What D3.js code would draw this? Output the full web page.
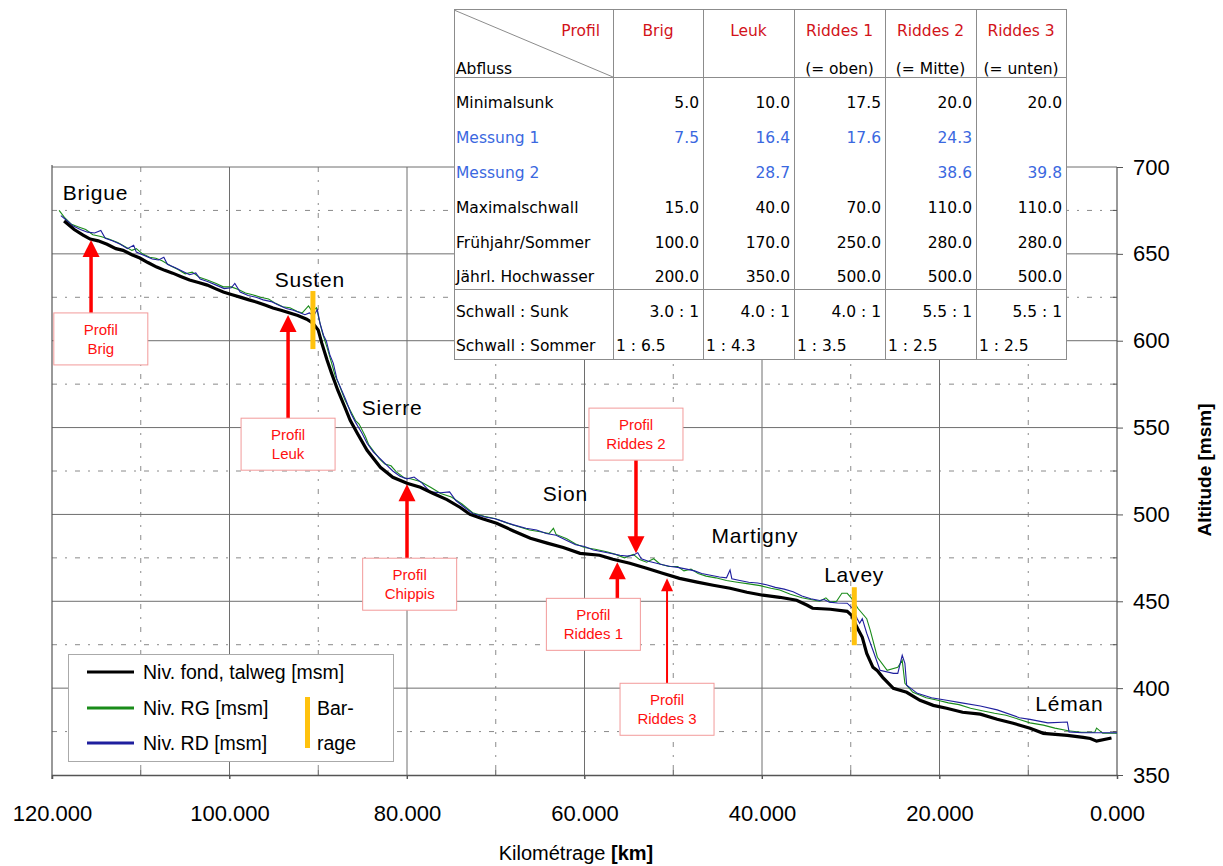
<!DOCTYPE html>
<html>
<head>
<meta charset="utf-8">
<script src="https://cdn.jsdelivr.net/npm/d3@7"></script>
<style>
html,body{margin:0;padding:0;background:#fff;}
svg{display:block;}
</style>
</head>
<body>
<svg id="chart" width="1223" height="866"></svg>
<script>
// ---------- DATA ----------
const xTicksMajor = [120, 100, 80, 60, 40, 20, 0];
const xTicksMinor = [110, 90, 70, 50, 30, 10];
const yTicksMajor = [700, 650, 600, 550, 500, 450, 400, 350];
const yTicksMinor = [675, 625, 575, 525, 475, 425, 375];

// Niv. fond, talweg [km, msm]
const talweg = [[118.5,668.3],[117.5,664],[116.5,660.8],[115.7,658.5],[114.8,657.5],[113.8,655.5],[112.8,653],[112,652],[111,649.5],[110.1,647.6],[109.2,645],[108.2,642.4],[107.3,640.5],[106.4,638.9],[105.5,637],[104.5,634.9],[103.5,633.5],[102.5,632],[101.6,630],[100.7,628],[99.7,626.5],[98.8,625.1],[97.8,623.5],[96.9,622.2],[96,620.5],[95.1,618.8],[94.2,617.5],[93.2,615.9],[92.3,614.5],[91.3,612.4],[90.6,610.1],[90.0,606.1],[89.6,598.6],[89.0,588.8],[88.5,581.3],[87.8,571.5],[87.0,561.7],[86.4,554.2],[85.6,546.7],[84.5,536.9],[83.0,527.1],[81.6,521.4],[80.0,517.9],[78.5,515.6],[77.1,512.2],[75.5,508.5],[74,504],[72.9,500],[71.5,497.5],[69.9,494.9],[68,490.5],[66.1,486.3],[64.2,483.5],[62.4,481],[60.5,477.6],[58.3,476.5],[56.8,474.2],[54.9,471.9],[53.0,469.0],[51.2,466.1],[49.3,463.2],[47.3,461.0],[45.5,459.2],[43.6,457.5],[41.7,455.2],[39.9,453.5],[38.0,452.3],[36.1,450.6],[34.9,447.7],[34.3,446],[32.3,445.4],[30.4,444.2],[29.9,441.9],[29.3,435],[28.7,429.3],[28.2,420],[27.5,412],[27.0,410],[26.4,406.2],[25.2,399.9],[23.7,397.6],[22.2,393],[20.7,390.1],[19.2,388.4],[17.4,386.1],[15.4,385],[13.5,382.1],[11.7,379.8],[9.8,376.9],[8.3,374],[5.6,372.8],[3.8,371.7],[3,371],[2.3,369.5],[0.8,371.1]];

// Niv. RG [km, msm]
const rg = [[119.2,675],[118.6,671],[117.8,667],[117,665.5],[116.2,664],[115.4,661],[114.5,660],[113.6,658.5],[112.6,656.5],[111.7,654],[111,652],[110.5,653],[109.8,650],[109,648],[108.3,647.5],[107.6,646],[106.6,643],[105.8,641],[105,638.5],[104.2,639.5],[103.4,636.5],[102.5,635],[101.5,633],[100.7,631],[99.8,631],[99,629.5],[98.2,627.5],[97.4,626.5],[96.5,625],[95.6,624],[94.8,621.5],[94,619.5],[93.2,619],[92.4,617],[91.8,616],[91.1,620],[90.7,617],[90.2,619],[89.9,612],[89.5,604],[89.0,596],[88.6,589],[88.1,580],[87.6,574],[87.0,566],[86.4,560],[85.8,554],[85.4,552],[85.0,548],[84.7,545],[84.3,540],[83.7,536],[83.1,532],[82.5,529],[81.8,528],[81.2,524.5],[80.3,521],[79.6,520.5],[78.5,519],[77.3,515.5],[76.2,512],[75,510],[73.8,506],[72.6,501],[71.3,499],[70,497.5],[68.7,495],[67.5,493],[66.2,491],[65,490],[64,489],[63.5,492],[63.2,488.5],[62,486],[61,483],[60,481],[58.8,480],[57.5,478.5],[56.5,477],[55.5,475],[54.5,477],[53.8,474],[53,472.5],[52.2,474.5],[51.5,471.5],[50.5,470],[49.5,470],[48.8,467.5],[48,468.5],[47.2,466],[46.3,464.5],[45.2,463.5],[44,462],[42.8,461],[41.5,460],[40.2,459],[39,457.5],[38,456.5],[36.8,454],[35.5,452],[34.5,451],[33.5,450],[32.8,452],[32.3,449.5],[31.6,450],[31.0,454.6],[30.4,454.6],[29.9,451.7],[29.2,446],[28.2,440],[27.8,433.3],[27.0,417.8],[25.9,410.3],[24.7,412],[24.2,416],[23.9,402.8],[23.0,397.6],[21.5,394.5],[20.2,393],[19,391.5],[17.8,390.5],[16.5,388.4],[15.2,387],[13.8,385.5],[12.5,384.4],[11,382],[9.8,380],[8.3,378.7],[7,377],[5.5,375.5],[4,374.6],[2.5,374.6],[2.3,377],[1.6,374],[0,374]];

// Niv. RD [km, msm]
const rd = [[119,672],[118.4,669.5],[117.6,666],[116.8,664],[116,662.5],[115.2,662],[114.5,663.5],[114,659],[113.2,657.5],[112.3,655.5],[111.5,653],[110.8,655],[110.5,651],[109.6,649],[108.7,647],[108,646.5],[107.4,648],[107,644],[106.1,642],[105.3,640],[104.5,638],[103.8,639],[103.3,635.5],[102.4,634],[101.5,632],[100.6,630],[99.8,630.5],[99.4,633],[98.8,628],[97.9,626],[97,625],[96.2,623.5],[95.3,622.5],[94.5,620.5],[93.6,618.5],[92.8,617.5],[92,616],[91.5,615],[91,616],[90.5,614.5],[90.1,618],[89.8,610],[89.4,603],[89.1,600],[88.7,592],[88.3,587],[87.9,578],[87.4,572],[86.9,566],[86.3,558],[85.8,553],[85.1,547],[84.5,541],[83.8,536],[83.2,533],[82.4,529],[81.6,525],[80.8,522],[80,520.5],[79.2,521.5],[78.3,518],[77.4,513],[76.2,512.5],[75.2,513],[74.5,508],[73.5,504],[72.6,500.5],[71.2,498.5],[70.1,497.5],[69.2,496],[68,494],[66.6,492],[65.4,491],[64.3,489],[63.2,488],[62,485],[61,482.5],[60,481.5],[59,479.5],[58,478.5],[57,477.5],[56,476.5],[55.2,476],[54.5,476.5],[54,478],[53.6,474.5],[52.8,473],[52,472],[51.2,471],[50.3,470],[49.5,469.5],[48.5,468.5],[47.6,467.5],[46.8,466],[45.8,465],[44.8,464],[44,463.5],[43.6,468],[43.4,463],[42.5,462],[41.5,461],[40.5,460.5],[39.5,459.5],[38.5,458],[37.5,457],[36.5,455.5],[35.5,453],[34.5,451.5],[33.5,450.5],[33,451],[32.4,449.5],[31.5,449],[30.4,448.9],[29.8,446],[29.3,440.2],[29.0,437.3],[28.7,440],[28.2,431.6],[27.5,421.8],[26.7,410.3],[25.2,408.5],[24.7,408.5],[24.2,418.9],[23.9,414.3],[23.7,401.7],[22.5,397],[20.9,394.5],[19.2,393],[17.5,391.5],[15.4,389.7],[13.5,387.5],[11,383],[9.8,382],[7.8,380],[5.6,380.5],[5.4,374.8],[4,374.3],[0,374.3]];

// Barrages [km, alt top, alt bottom]
const barrages = [[90.6, 628.6, 595.2], [29.6, 458.1, 424.7]];

// Places [name, km, alt]
const places = [["Brigue",118.8,681],["Susten",94.9,631],["Sierre",85.1,557],["Sion",64.7,507.6],["Martigny",45.7,483.4],["Lavey",33,461],["Léman",9.2,386.6]];

// Profiles [line1, line2, box center km, box top alt, arrow km, tip alt, direction]
const profiles = [
  ["Profil","Brig",114.5,616,115.6,658,"up"],
  ["Profil","Leuk",93.4,555.4,93.4,614.8,"up"],
  ["Profil","Chippis",79.7,474.8,80.0,517.4,"up"],
  ["Profil","Riddes 2",54.2,561.2,54.2,477.6,"down"],
  ["Profil","Riddes 1",59.0,451.7,56.3,472.5,"up"],
  ["Profil","Riddes 3",50.7,402.8,50.7,463.2,"upthin"]
];

// Table
const tableHead = ["Brig","Leuk","Riddes 1","Riddes 2","Riddes 3"];
const tableSub = ["","","(= oben)","(= Mitte)","(= unten)"];
const rowLabels = ["Minimalsunk","Messung 1","Messung 2","Maximalschwall","Frühjahr/Sommer","Jährl. Hochwasser","Schwall : Sunk","Schwall : Sommer"];
const rowMinimalsunk = ["5.0","10.0","17.5","20.0","20.0"];
const rowMessung1 = ["7.5","16.4","17.6","24.3",""];
const rowMessung2 = ["","28.7","","38.6","39.8"];
const rowMaximalschwall = ["15.0","40.0","70.0","110.0","110.0"];
const rowFruehjahr = ["100.0","170.0","250.0","280.0","280.0"];
const rowHochwasser = ["200.0","350.0","500.0","500.0","500.0"];
const rowSchwallSunk = ["3.0 : 1","4.0 : 1","4.0 : 1","5.5 : 1","5.5 : 1"];
const rowSchwallSommer = ["1 : 6.5","1 : 4.3","1 : 3.5","1 : 2.5","1 : 2.5"];

// ---------- DRAW ----------
const svg = d3.select("#chart");
const x = d3.scaleLinear().domain([120, 0]).range([52, 1117]);
const y = d3.scaleLinear().domain([350, 700]).range([775, 167]);
const AR = "Liberation Sans, Arial, sans-serif";

const grid = svg.append("g");
grid.selectAll(".vmin").data(xTicksMinor).enter().append("line")
  .attr("x1", d => x(d)).attr("x2", d => x(d)).attr("y1", y(700)).attr("y2", y(350))
  .attr("stroke", "#8a8a8a").attr("stroke-width", 1).attr("stroke-dasharray", "5,8,2,8");
grid.selectAll(".hmin").data(yTicksMinor).enter().append("line")
  .attr("x1", x(120)).attr("x2", x(0)).attr("y1", d => y(d)).attr("y2", d => y(d))
  .attr("stroke", "#8a8a8a").attr("stroke-width", 1).attr("stroke-dasharray", "5,8,2,8");
grid.selectAll(".vmaj").data(xTicksMajor.filter(d => d !== 120 && d !== 0)).enter().append("line")
  .attr("x1", d => x(d)).attr("x2", d => x(d)).attr("y1", y(700)).attr("y2", y(350) + 4)
  .attr("stroke", "#6e6e6e").attr("stroke-width", 1);
grid.selectAll(".hmaj").data(yTicksMajor.filter(d => d !== 350)).enter().append("line")
  .attr("x1", x(120)).attr("x2", x(0)).attr("y1", d => y(d)).attr("y2", d => y(d))
  .attr("stroke", "#6e6e6e").attr("stroke-width", 1);

const xAxis = d3.axisBottom(x).tickValues(xTicksMajor).tickFormat(d3.format(".3f")).tickSize(4).tickPadding(26);
const gx = svg.append("g").attr("transform", `translate(0,${y(350)})`).call(xAxis);
gx.select(".domain").attr("stroke", "#555").attr("stroke-width", 1.5);
gx.selectAll(".tick line").attr("stroke", "#555");
gx.selectAll("text").attr("font-family", AR).attr("font-size", 22).attr("fill", "#000");
svg.append("g").selectAll("line").data(xTicksMinor).enter().append("line")
  .attr("x1", d => x(d)).attr("x2", d => x(d)).attr("y1", y(350)).attr("y2", y(350) - 5)
  .attr("stroke", "#555");

const yAxis = d3.axisRight(y).tickValues(yTicksMajor).tickFormat(d3.format("d")).tickSize(6).tickPadding(10);
const gy = svg.append("g").attr("transform", `translate(${x(0)},0)`).call(yAxis);
gy.select(".domain").attr("stroke", "#555").attr("stroke-width", 1.2).attr("d", `M0,${y(700)}V${y(350)}`);
gy.selectAll(".tick line").attr("stroke", "#555");
gy.selectAll("text").attr("font-family", AR).attr("font-size", 22).attr("fill", "#000");
svg.append("g").selectAll("line").data(yTicksMinor).enter().append("line")
  .attr("x1", x(0)).attr("x2", x(0) - 4).attr("y1", d => y(d)).attr("y2", d => y(d)).attr("stroke", "#555");

svg.append("line").attr("x1", x(120)).attr("x2", x(120)).attr("y1", y(700) - 2).attr("y2", y(350) + 4)
  .attr("stroke", "#555").attr("stroke-width", 1.2);

svg.append("text").attr("transform", `translate(1211,${(y(700)+y(350))/2 - 1}) rotate(-90)`)
  .attr("text-anchor", "middle").attr("font-family", AR).attr("font-weight", "bold").attr("font-size", 19)
  .text("Altitude [msm]");
const xt = svg.append("text").attr("x", 576).attr("y", 860).attr("text-anchor", "middle")
  .attr("font-family", AR).attr("font-size", 20);
xt.append("tspan").text("Kilométrage ");
xt.append("tspan").attr("font-weight", "bold").text("[km]");

const line = d3.line().x(d => x(d[0])).y(d => y(d[1]));
svg.append("path").datum(rg).attr("d", line).attr("fill", "none").attr("stroke", "#1a8c1a").attr("stroke-width", 1.1);
svg.append("path").datum(rd).attr("d", line).attr("fill", "none").attr("stroke", "#1f1f9e").attr("stroke-width", 1.1);
svg.append("path").datum(talweg).attr("d", line).attr("fill", "none").attr("stroke", "#000").attr("stroke-width", 3.2)
  .attr("stroke-linejoin", "miter").attr("stroke-linecap", "square");

svg.append("g").selectAll("rect").data(barrages).enter().append("rect")
  .attr("x", d => x(d[0]) - 2.5).attr("width", 5)
  .attr("y", d => y(d[1])).attr("height", d => y(d[2]) - y(d[1]))
  .attr("fill", "#ffc20e");

svg.append("g").selectAll("text").data(places).enter().append("text")
  .attr("x", d => x(d[1])).attr("y", d => y(d[2]))
  .attr("font-family", AR).attr("font-size", 21).attr("letter-spacing", 0.8).attr("fill", "#000")
  .text(d => d[0]);

const pg = svg.append("g");
profiles.forEach(p => {
  const bx = x(p[2]), by = y(p[3]), ax = x(p[4]), tip = y(p[5]);
  const bw = 94, bh = 52;
  const thin = p[6] === "upthin";
  const sw = thin ? 2 : 3.5, hw = thin ? 6 : 8.5, hl = thin ? 13 : 17;
  let tail;
  if (p[6] === "down") {
    tail = by + bh;
    pg.append("line").attr("x1", ax).attr("x2", ax).attr("y1", tail).attr("y2", tip - hl + 2).attr("stroke", "#ff0000").attr("stroke-width", sw);
    pg.append("path").attr("d", `M${ax},${tip}L${ax-hw},${tip-hl}L${ax+hw},${tip-hl}Z`).attr("fill", "#ff0000");
  } else {
    tail = by;
    pg.append("line").attr("x1", ax).attr("x2", ax).attr("y1", tail).attr("y2", tip + hl - 2).attr("stroke", "#ff0000").attr("stroke-width", sw);
    pg.append("path").attr("d", `M${ax},${tip}L${ax-hw},${tip+hl}L${ax+hw},${tip+hl}Z`).attr("fill", "#ff0000");
  }
  pg.append("rect").attr("x", bx - bw/2).attr("y", by).attr("width", bw).attr("height", bh)
    .attr("fill", "#fff").attr("stroke", "#f29a9a").attr("stroke-width", 1);
  pg.append("text").attr("x", bx).attr("y", by + 22).attr("text-anchor", "middle")
    .attr("font-family", AR).attr("font-size", 15).attr("fill", "#ff1010").text(p[0]);
  pg.append("text").attr("x", bx).attr("y", by + 41).attr("text-anchor", "middle")
    .attr("font-family", AR).attr("font-size", 15).attr("fill", "#ff1010").text(p[1]);
});

const lg = svg.append("g");
lg.append("rect").attr("x", 68.5).attr("y", 654.5).attr("width", 325).attr("height", 107)
  .attr("fill", "#fff").attr("stroke", "#aaa");
const legItems = [["Niv. fond, talweg [msm]", "#000", 672], ["Niv. RG [msm]", "#1a8c1a", 708], ["Niv. RD [msm]", "#1f1f9e", 743]];
legItems.forEach(it => {
  lg.append("line").attr("x1", 87).attr("x2", 134).attr("y1", it[2]).attr("y2", it[2]).attr("stroke", it[1]).attr("stroke-width", 3);
  lg.append("text").attr("x", 143).attr("y", it[2] + 7).attr("font-family", AR).attr("font-size", 19.5).text(it[0]);
});
lg.append("rect").attr("x", 305).attr("y", 697).attr("width", 5).attr("height", 51).attr("fill", "#ffc20e");
lg.append("text").attr("x", 317).attr("y", 715).attr("font-family", AR).attr("font-size", 19.5).text("Bar-");
lg.append("text").attr("x", 317).attr("y", 750).attr("font-family", AR).attr("font-size", 19.5).text("rage");

const TF = "DejaVu Sans, Verdana, sans-serif";
const tg = svg.append("g");
const colX = [454, 613, 703, 794, 885, 976, 1066];
const tTop = 9, tBot = 359, hLine = 77, sLine = 289;
tg.append("rect").attr("x", colX[0] + 0.5).attr("y", tTop + 0.5).attr("width", colX[6] - colX[0]).attr("height", tBot - tTop)
  .attr("fill", "#fff").attr("stroke", "#8c8c8c");
colX.slice(1, 6).forEach(cx => tg.append("line").attr("x1", cx + 0.5).attr("x2", cx + 0.5).attr("y1", tTop).attr("y2", tBot).attr("stroke", "#8c8c8c"));
[hLine, sLine].forEach(ly => tg.append("line").attr("x1", colX[0]).attr("x2", colX[6]).attr("y1", ly + 0.5).attr("y2", ly + 0.5).attr("stroke", "#8c8c8c"));
tg.append("line").attr("x1", colX[0]).attr("y1", tTop + 1).attr("x2", colX[1]).attr("y2", hLine).attr("stroke", "#8c8c8c");

const RED = "#d2131a", BLUE = "#3a68e0";
tg.append("text").attr("x", 600).attr("y", 36).attr("text-anchor", "end").attr("font-family", TF).attr("font-size", 15.5).attr("fill", RED).text("Profil");
tg.append("text").attr("x", 456).attr("y", 74).attr("font-family", TF).attr("font-size", 15.5).attr("fill", "#000").text("Abfluss");
tableHead.forEach((h, i) => {
  const cx = (colX[i+1] + colX[i+2]) / 2;
  tg.append("text").attr("x", cx).attr("y", 36).attr("text-anchor", "middle").attr("font-family", TF).attr("font-size", 15.5).attr("fill", RED).text(h);
  if (tableSub[i]) tg.append("text").attr("x", cx).attr("y", 74).attr("text-anchor", "middle").attr("font-family", TF).attr("font-size", 15.5).attr("fill", "#000").text(tableSub[i]);
});
const rows = [rowMinimalsunk, rowMessung1, rowMessung2, rowMaximalschwall, rowFruehjahr, rowHochwasser, rowSchwallSunk, rowSchwallSommer];
const rowY = [108, 143, 178, 213, 248, 282, 317, 351];
const defs = svg.append("defs");
colX.slice(1, 6).forEach((cx, i) => {
  defs.append("clipPath").attr("id", "cc" + i).append("rect").attr("x", cx + 1).attr("y", 0).attr("width", colX[i+2] - cx - 2).attr("height", 400);
});
rows.forEach((r, ri) => {
  const col = (ri === 1 || ri === 2) ? BLUE : "#000";
  tg.append("text").attr("x", 456).attr("y", rowY[ri]).attr("font-family", TF).attr("font-size", 15.5).attr("fill", col).text(rowLabels[ri]);
  r.forEach((v, ci) => {
    if (!v) return;
    const left = ri === 7;
    tg.append("text")
      .attr("x", left ? colX[ci+1] + 3 : colX[ci+2] - 4)
      .attr("y", rowY[ri]).attr("text-anchor", left ? "start" : "end")
      .attr("clip-path", left ? `url(#cc${ci})` : null)
      .attr("font-family", TF).attr("font-size", 15.5).attr("fill", col).text(v);
  });
});
</script>
</body>
</html>
